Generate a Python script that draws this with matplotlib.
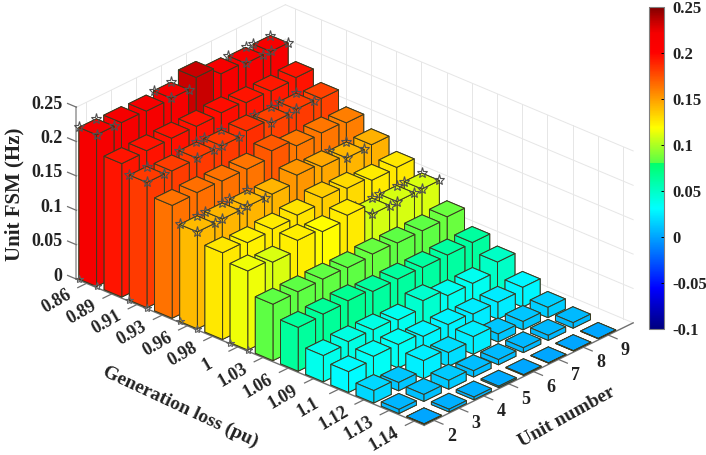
import matplotlib
matplotlib.use("Agg")
import matplotlib.pyplot as plt
import numpy as np
from matplotlib.cm import ScalarMappable
from matplotlib.colors import LinearSegmentedColormap, Normalize
from mpl_toolkits.mplot3d import proj3d

plt.rcParams["font.family"] = ["Liberation Serif", "DejaVu Serif"]
plt.rcParams["font.weight"] = "bold"

gen_labels = ["0.86", "0.89", "0.91", "0.93", "0.96", "0.98", "1", "1.03", "1.06", "1.09", "1.1", "1.12", "1.13", "1.14"]
unit_numbers = [2, 3, 4, 5, 6, 7, 8, 9]
z_ticks = [0, 0.05, 0.1, 0.15, 0.2, 0.25]
cbar_ticks = [-0.1, -0.05, 0, 0.05, 0.1, 0.15, 0.2, 0.25]

# one list per generation loss, units 2 to 9
fsm_086 = [0.2205, 0.2205, 0.2195, 0.2205, 0.233, 0.2205, 0.218, 0.2175]
fsm_089 = [0.194, 0.195, 0.1955, 0.195, 0.197, 0.194, 0.193, 0.195]
fsm_091 = [0.182, 0.181, 0.182, 0.182, 0.186, 0.18, 0.182, 0.18]
fsm_093 = [0.164, 0.165, 0.164, 0.1635, 0.1725, 0.162, 0.163, 0.16]
fsm_096 = [0.141, 0.142, 0.1425, 0.1426, 0.1525, 0.147, 0.142, 0.1435]
fsm_098 = [0.126, 0.123, 0.125, 0.1275, 0.135, 0.131, 0.125, 0.126]
fsm_100 = [0.115, 0.11, 0.124, 0.119, 0.125, 0.109, 0.1095, 0.11]
fsm_103 = [0.082, 0.0824, 0.083, 0.082, 0.084, 0.0824, 0.0824, 0.085]
fsm_106 = [0.0637, 0.0653, 0.067, 0.0628, 0.063, 0.0622, 0.0625, 0.063]
fsm_109 = [0.038, 0.0405, 0.04, 0.0365, 0.047, 0.0365, 0.0365, 0.05]
fsm_110 = [0.03, 0.0345, 0.034, 0.028, 0.0275, 0.025, 0.0245, 0.0285]
fsm_112 = [0.018, 0.012, 0.026, 0.02, 0.0254, 0.0116, 0.012, 0.0148]
fsm_113 = [0.006, 0.01, 0.0128, 0.009, 0.0075, 0.007, 0.0073, 0.008]
fsm_114 = [0.0005, 0.004, 0.004, 0.002, 0.001, 0.0005, 0.0005, 0.0005]
fsm = np.array([fsm_086, fsm_089, fsm_091, fsm_093, fsm_096, fsm_098, fsm_100,
                fsm_103, fsm_106, fsm_109, fsm_110, fsm_112, fsm_113, fsm_114])

# bars carrying stars: position in gen_labels -> positions in unit_numbers
star_tops = {0: [0, 3, 6, 7], 2: [0, 2, 3, 5, 6], 4: [0, 1, 2, 6], 6: [5, 6, 7]}
star_bases = [0, 2, 4, 6]

# jet, with the step the colorbar shows just above 0.08
fsm_cmap = LinearSegmentedColormap.from_list("fsm", [
    (0.0, (0, 0, 0.5)), (0.125, (0, 0, 1)), (0.375, (0, 1, 1)),
    (0.515, (0, 1, 0.42)), (0.515, (0.33, 1, 0.28)), (0.625, (1, 1, 0)),
    (0.86, (1, 0, 0)), (0.92, (0.96, 0, 0)), (0.955, (0.78, 0, 0)), (1.0, (0.5, 0, 0))], N=512)
norm = Normalize(-0.1, 0.25)

xlo, xhi, ylo, yhi, ztop = 0.6, 14.4, 1.6, 10, 0.25
w = 0.7  # bar width
text_c = "#222222"

fig = plt.figure(figsize=(7.06, 4.55), dpi=100)
ax = fig.add_axes([21 / 706, -93.8 / 455, 650 / 706, 650 / 455], projection="3d", proj_type="ortho")
ax.computed_zorder = False
ax.set_axis_off()
ax.view_init(elev=27, azim=-47.2)
ax.set_box_aspect((474, 307.6, 193), zoom=0.8917)
ax.set_xlim(xlo, xhi)
ax.set_ylim(ylo, yhi)
ax.set_zlim(0, ztop)
proj = ax.get_proj()


def label3d(x, y, z, s, **kw):
    # text stays flat on the figure, only its anchor comes from the 3d axes
    px, py, _ = proj3d.proj_transform(x, y, z, proj)
    ax.text2D(px, py, s, transform=ax.transData, color=text_c, fontsize=13, **kw)


# walls
grid_c = "#e6e6e6"
for z in z_ticks:
    ax.plot([xlo, xlo], [ylo, yhi], [z, z], color=grid_c, lw=0.7, zorder=1)
    ax.plot([xlo, xhi], [yhi, yhi], [z, z], color=grid_c, lw=0.7, zorder=1)
for u in unit_numbers:
    ax.plot([xlo, xlo], [u, u], [0, ztop], color=grid_c, lw=0.7, zorder=1)
for g in range(1, 15):
    ax.plot([g, g], [yhi, yhi], [0, ztop], color=grid_c, lw=0.7, zorder=1)

# axis lines and ticks
axis_c = "#707070"
ax.plot([xlo, xlo], [ylo, ylo], [0, ztop], color="#a0a0a0", lw=1.2, zorder=2)
ax.plot([xlo, xhi], [ylo, ylo], [0, 0], color=axis_c, lw=1.0, zorder=2)
ax.plot([xhi, xhi], [ylo, yhi], [0, 0], color=axis_c, lw=1.0, zorder=2)
for g in range(1, 15):
    ax.plot([g, g], [ylo, ylo - 0.35], [0, 0], color=axis_c, lw=0.9, zorder=2)
    label3d(g + 0.15, 0.24, 0, gen_labels[g - 1], rotation=30, ha="center", va="center")
for u in unit_numbers:
    ax.plot([xhi, xhi + 0.35], [u, u], [0, 0], color=axis_c, lw=0.9, zorder=2)
    label3d(15.45, u - 0.375, 0, str(u), ha="center", va="center")
for z in z_ticks:
    ax.plot([xlo - 0.35, xlo], [ylo, ylo], [z, z], color=axis_c, lw=0.9, zorder=2)
    label3d(xlo - 0.55, ylo, z - 0.004, f"{z:g}", ha="right", va="center")

# bars back to front so the overlaps come out right
order = 10
for i in range(len(gen_labels)):
    for j in reversed(range(len(unit_numbers))):
        g, u, h = i + 1, unit_numbers[j], fsm[i, j]
        bar = ax.bar3d(g - w / 2, u - w / 2, 0, w, w, h, color=fsm_cmap(norm(h)),
                       edgecolor="#3a3a20", linewidth=0.7, shade=False)
        bar.set_zorder(order)
        order += 1
        if j in star_tops.get(i, []):
            sx = [g - w / 2, g + w / 2, g + w / 2, g - w / 2]
            sy = [u - w / 2, u - w / 2, u + w / 2, u + w / 2]
            ax.plot(sx, sy, [h] * 4, ls="none", marker="*", ms=8, mfc="none", mec="#505050", mew=0.8, zorder=order)
            order += 1
        if j == 0 and i in star_bases:
            ax.plot([g - w / 2, g + w / 2], [u - w / 2, u - w / 2], [0, 0], ls="none", marker="*", ms=6,
                    mfc="none", mec="#606060", mew=0.8, zorder=order)
            order += 1

ax.set_xlim(xlo, xhi)
ax.set_ylim(ylo, yhi)
ax.set_zlim(0, ztop)

fig.text(14 / 706, 1 - 194 / 455, "Unit FSM (Hz)", rotation=90, fontsize=15, ha="center", va="center", color=text_c)
fig.text(180 / 706, 1 - 407 / 455, "Generation loss (pu)", rotation=-25, rotation_mode="anchor", fontsize=14,
         ha="center", va="center", color=text_c)
fig.text(567 / 706, 1 - 417 / 455, "Unit number", rotation=29, rotation_mode="anchor", fontsize=14,
         ha="center", va="center", color=text_c)

cax = fig.add_axes([649 / 706, 1 - 329 / 455, 15 / 706, 322 / 455])
cb = fig.colorbar(ScalarMappable(norm=norm, cmap=fsm_cmap), cax=cax)
cb.set_ticks(cbar_ticks)
cb.set_ticklabels([f"{t:g}" for t in cbar_ticks])
cb.ax.tick_params(direction="in", length=2.5, width=0.7, labelsize=12, pad=6, labelcolor=text_c)
cb.outline.set_edgecolor("#808080")
cb.outline.set_linewidth(0.8)

fig.savefig("out.png", dpi=100)
